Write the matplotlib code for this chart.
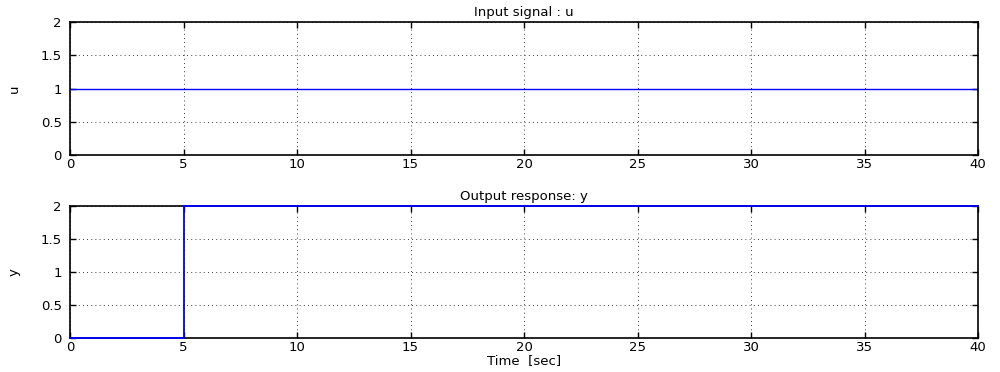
import matplotlib
matplotlib.use("Agg")
import matplotlib.pyplot as plt

# signals
t_u = [0, 40]
u = [1, 1]
t_y = [0, 5, 5, 40]
y = [0, 0, 2, 2]

xticks = [0, 5, 10, 15, 20, 25, 30, 35, 40]
yticks = [0, 0.5, 1, 1.5, 2]
ytick_labels = ["0", "0.5", "1", "1.5", "2"]

plt.rcParams['font.family'] = ['DejaVu Sans']
plt.rcParams['font.size'] = 9.5

fig = plt.figure(figsize=(10, 3.72), dpi=100)
ax1 = fig.add_axes([0.070, 1 - 155 / 372, 0.908, 133 / 372])
ax2 = fig.add_axes([0.070, 1 - 338 / 372, 0.908, 132 / 372])


def style(ax):
    ax.set_xlim(0, 40)
    ax.set_ylim(0, 2)
    ax.set_xticks(xticks)
    ax.set_yticks(yticks)
    ax.set_yticklabels(ytick_labels)
    ax.tick_params(direction='in', top=True, right=True, length=4, width=1.0)
    ax.tick_params(axis='y', pad=6)
    ax.tick_params(axis='x', pad=2)
    ax.grid(True, color='black', linestyle=(0, (1, 4)), linewidth=0.6)
    for s in ax.spines.values():
        s.set_linewidth(1.2)


ax1.plot(t_u, u, color='#0000ff', linewidth=1.0)
style(ax1)
ax1.set_title("Input signal : u", fontsize=9.5, pad=4)
ax1.set_ylabel("u", labelpad=14)

# step drawn above the frame so the blue shows on the edges
ax2.plot(t_y, y, color='#0000ff', linewidth=1.3, clip_on=False, zorder=3)
style(ax2)
ax2.set_title("Output response: y", fontsize=9.5, pad=4)
ax2.set_ylabel("y", labelpad=14)
ax2.set_xlabel("Time  [sec]", labelpad=0)

fig.savefig("out.png", dpi=100)
